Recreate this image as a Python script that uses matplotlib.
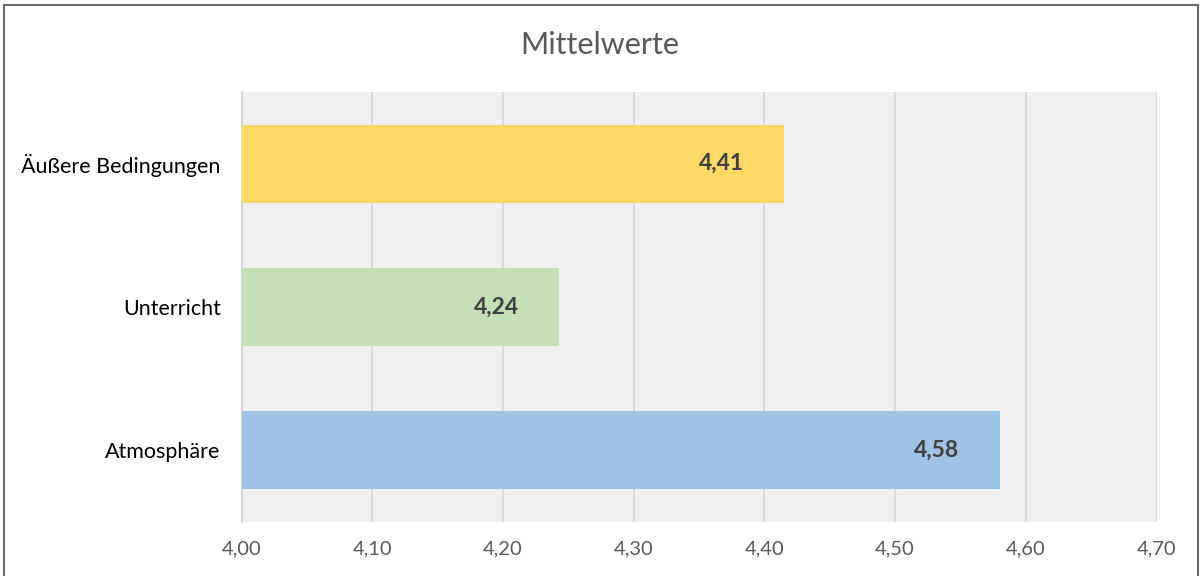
"""Mittelwerte bar chart."""

import matplotlib

matplotlib.use("Agg")
import matplotlib.pyplot as plt
from matplotlib.patches import Rectangle

categories = ["Atmosphäre", "Unterricht", "Äußere Bedingungen"]
values = [4.58, 4.243, 4.415]
labels = ["4,58", "4,24", "4,41"]
colors = ["#9DC3E6", "#C5E0B4", "#FFD966"]
ticks = [4.0, 4.1, 4.2, 4.3, 4.4, 4.5, 4.6, 4.7]
tick_labels = ["4,00", "4,10", "4,20", "4,30", "4,40", "4,50", "4,60", "4,70"]

plt.rcParams["font.family"] = ["Lato", "DejaVu Sans"]

fig = plt.figure(figsize=(12, 5.76), dpi=100)
fig.patch.set_facecolor("white")
# outer frame; bottom edge runs off the picture like in the reference
fig.patches.append(Rectangle((4 / 1200, -0.02), 1194 / 1200, 1 - 5 / 576 + 0.02,
                             transform=fig.transFigure, fill=False,
                             edgecolor="#6b6b6b", linewidth=1.5))

ax = fig.add_axes([241.5 / 1200, 1 - 522 / 576, 915 / 1200, 430 / 576])
ax.set_facecolor("#f0f0f0")

ax.barh(range(len(categories)), [v - ticks[0] for v in values], left=ticks[0],
        height=0.545, color=colors, zorder=3)
for i, (v, lab) in enumerate(zip(values, labels)):
    ax.annotate(lab, (v, i), xytext=(-29, 0), textcoords="offset points",
                ha="right", va="center", fontsize=16.5, fontweight="bold",
                color="#404040", zorder=4)

ax.set_xlim(ticks[0], ticks[-1])
ax.set_ylim(-0.5, len(categories) - 0.5)
ax.set_xticks(ticks)
ax.set_xticklabels(tick_labels)
ax.set_yticks(range(len(categories)))
ax.set_yticklabels(categories)
ax.tick_params(axis="x", length=0, pad=13, labelsize=14.5, labelcolor="#595959")
ax.tick_params(axis="y", length=0, pad=15, labelsize=15.5, labelcolor="#000000")
ax.grid(axis="x", color="#d9d9d9", linewidth=1.5, zorder=1)
ax.set_axisbelow(True)
for s in ["top", "right", "bottom"]:
    ax.spines[s].set_visible(False)
ax.spines["left"].set_color("#d9d9d9")
ax.spines["left"].set_linewidth(1.5)

fig.text(0.5, 1 - 45 / 576, "Mittelwerte", ha="center", va="center",
         fontsize=22, color="#595959")

fig.savefig("out.png", dpi=100)
